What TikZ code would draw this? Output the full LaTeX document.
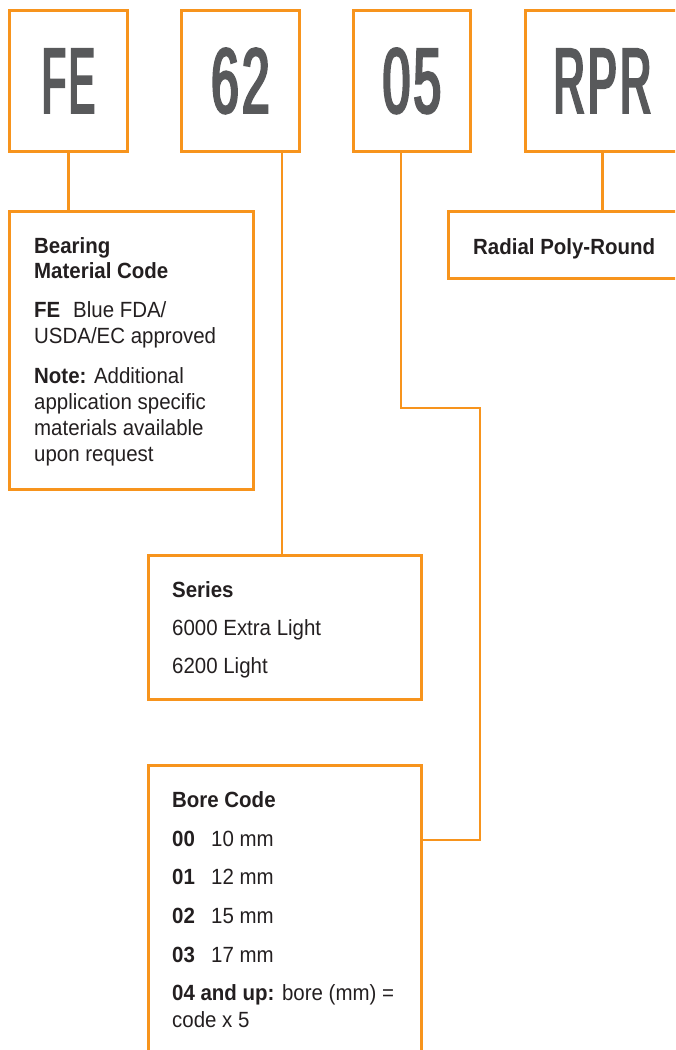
\documentclass[tikz,border=0pt]{standalone}
\usepackage{fontspec}
\setmainfont{Liberation Sans}[FakeStretch=0.93]
\newfontfamily\bigFE{Liberation Sans}[FakeStretch=0.42,FakeBold=2.8,LetterSpace=3.5]
\newfontfamily\bigRPR{Liberation Sans}[FakeStretch=0.47,FakeBold=2.8,LetterSpace=3.5]
\newfontfamily\bigDig{Liberation Sans}[FakeStretch=0.54,FakeBold=2.8,LetterSpace=3.5]
\definecolor{og}{HTML}{F7941D}
\definecolor{bigtx}{HTML}{58595B}
\definecolor{tx}{HTML}{231F20}
\tikzset{
  box/.style={draw=og, line width=2.8pt, rectangle, inner sep=0pt, anchor=north west},
  conn/.style={draw=og, line width=2.8pt},
  big/.style={text=bigtx, font=\fontsize{92}{92}\selectfont},
  txt/.style={anchor=base west, inner sep=0pt, text=tx, font=\fontsize{22}{26}\selectfont},
}
\begin{document}
\begin{tikzpicture}[x=1pt,y=-1pt]
\useasboundingbox (0,0) rectangle (675,1050);
\clip (0,0) rectangle (675,1050);
% code boxes
\node[box, big, minimum width=118pt, minimum height=141pt] (fe) at (8,9) {\bigFE FE};
\node[box, big, minimum width=118pt, minimum height=141pt] (s62) at (180,9) {\bigDig 62};
\node[box, big, minimum width=117pt, minimum height=141pt] (s05) at (352,9) {\bigDig 05};
\node[box, big, minimum width=154pt, minimum height=141pt] (rpr) at (524,9) {\bigRPR RPR};
% description boxes
\node[box, minimum width=244pt, minimum height=278pt] (bearing) at (8,210) {};
\node[box, minimum width=230pt, minimum height=67pt] (radial) at (447,210) {};
\node[box, minimum width=273pt, minimum height=144pt] (series) at (147,554) {};
\node[box, minimum width=273pt, minimum height=330pt] (bore) at (147,764) {};
% connector points
\coordinate (c62) at (282,150);
\coordinate (c05) at (401,150);
\coordinate (k1) at (480,408);
\coordinate (k2) at (480,840);
\draw[conn] (fe.south) -- (fe.south |- bearing.north);
\draw[conn] (c62) -- (c62 |- series.north);
\draw[conn] (c05) |- (k1) -- (k2) -- (k2 -| bore.east);
\draw[conn] (rpr.south) -- (rpr.south |- radial.north);
% bearing text
\node[txt] (b1) at (34,253) {\bfseries Bearing};
\node[txt] (b2) at (34,278) {\bfseries Material Code};
\node[txt] (b3) at (34,317) {\bfseries FE};
\node[txt] (b3b) at (73,317) {Blue FDA/};
\node[txt] (b4) at (34,343) {USDA/EC approved};
\node[txt] (b5) at (34,383) {\textbf{Note:} Additional};
\node[txt] (b6) at (34,409) {application specific};
\node[txt] (b7) at (34,435) {materials available};
\node[txt] (b8) at (34,461) {upon request};
% radial text
\node[txt] (r1) at (473,254) {\bfseries Radial Poly-Round};
% series text
\node[txt] (se1) at (172,597) {\bfseries Series};
\node[txt] (se2) at (172,635) {6000 Extra Light};
\node[txt] (se3) at (172,673) {6200 Light};
% bore text
\node[txt] (bo1) at (172,807) {\bfseries Bore Code};
\node[txt] (bo2) at (172,846) {\bfseries 00};
\node[txt] (bo2b) at (211,846) {10 mm};
\node[txt] (bo3) at (172,884) {\bfseries 01};
\node[txt] (bo3b) at (211,884) {12 mm};
\node[txt] (bo4) at (172,923) {\bfseries 02};
\node[txt] (bo4b) at (211,923) {15 mm};
\node[txt] (bo5) at (172,962) {\bfseries 03};
\node[txt] (bo5b) at (211,962) {17 mm};
\node[txt] (bo6) at (172,1000) {\textbf{04 and up:} bore (mm) =};
\node[txt] (bo7) at (172,1027) {code x 5};
\end{tikzpicture}
\end{document}
